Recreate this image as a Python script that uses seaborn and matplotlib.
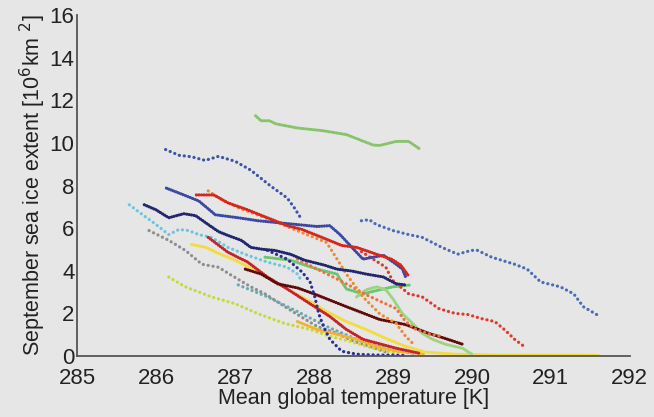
import matplotlib
matplotlib.use("Agg")
import seaborn as sns
import matplotlib.pyplot as plt

# September sea ice extent vs mean global temperature, one track per model run

# top light green
x_green_top = [287.26, 287.33, 287.44, 287.51, 287.79, 288.12, 288.41, 288.75, 288.83, 289.04, 289.20, 289.33]
y_green_top = [11.27, 11.04, 11.04, 10.90, 10.70, 10.57, 10.39, 9.90, 9.88, 10.07, 10.07, 9.74]

# upper blue
x_blue_up = [286.12, 286.29, 286.45, 286.62, 286.79, 287.00, 287.20, 287.45, 287.66, 287.75, 287.83]
y_blue_up = [9.69, 9.42, 9.35, 9.18, 9.37, 9.14, 8.72, 7.98, 7.42, 6.96, 6.49]

# right blue
x_blue_right = [288.60, 288.70, 288.79, 289.00, 289.20, 289.37, 289.62, 289.82, 289.99, 290.07, 290.25,
                290.54, 290.70, 290.87, 291.12, 291.29, 291.41, 291.58]
y_blue_right = [6.35, 6.40, 6.17, 5.89, 5.70, 5.57, 5.10, 4.78, 4.96, 4.96, 4.64,
                4.31, 4.08, 3.48, 3.25, 2.92, 2.32, 1.95]

# navy
x_navy = [285.85, 286.00, 286.16, 286.35, 286.50, 286.66, 286.79, 286.91, 287.08, 287.20, 287.35, 287.50,
          287.70, 287.88, 288.13, 288.29, 288.48, 288.66, 288.88, 289.04, 289.16]
y_navy = [7.10, 6.86, 6.49, 6.68, 6.59, 6.17, 5.84, 5.66, 5.43, 5.10, 5.01, 4.96,
          4.78, 4.50, 4.27, 4.08, 3.99, 3.85, 3.71, 3.39, 3.34]

# medium blue
x_blue_mid = [286.13, 286.35, 286.54, 286.75, 287.04, 287.29, 287.54, 287.79, 288.04, 288.20, 288.33,
              288.48, 288.62, 288.88, 289.04, 289.12, 289.16]
y_blue_mid = [7.88, 7.56, 7.28, 6.63, 6.49, 6.35, 6.26, 6.17, 6.08, 6.12, 5.70,
              5.10, 4.55, 4.73, 4.31, 4.08, 3.71]

# red
x_red = [286.51, 286.73, 286.91, 287.16, 287.41, 287.66, 287.85, 288.10, 288.35, 288.54, 288.79, 288.98, 289.10, 289.19]
y_red = [7.56, 7.56, 7.19, 6.86, 6.49, 6.12, 5.94, 5.57, 5.19, 5.10, 4.78, 4.55, 4.27, 3.80]

# orange
x_orange = [286.66, 286.85, 287.04, 287.30, 287.54, 287.91, 288.16, 288.41, 288.62, 288.83, 289.04, 289.16, 289.25]
y_orange = [7.75, 7.30, 6.96, 6.60, 6.26, 5.70, 5.33, 3.85, 2.78, 1.99, 1.53, 0.93, 0.60]

# red dotted, right
x_red_dot = [288.60, 288.91, 288.99, 289.20, 289.37, 289.58, 289.79, 289.95, 290.12, 290.29, 290.41, 290.54, 290.66]
y_red_dot = [4.90, 4.17, 3.57, 2.92, 2.78, 2.23, 2.00, 1.95, 1.76, 1.62, 1.25, 0.79, 0.46]

# maroon
x_maroon = [287.13, 287.33, 287.54, 287.79, 288.00, 288.41, 288.83, 289.16, 289.45, 289.66, 289.88]
y_maroon = [4.08, 3.85, 3.39, 3.20, 2.92, 2.32, 1.72, 1.48, 1.07, 0.83, 0.56]

# crimson, lower
x_crimson = [286.66, 286.91, 287.16, 287.41, 287.66, 287.91, 288.20, 288.41, 288.62, 289.04, 289.33]
y_crimson = [5.57, 4.87, 4.41, 3.71, 3.15, 2.55, 1.86, 1.25, 0.79, 0.37, 0.14]

# green, middle
x_green_mid = [287.38, 287.70, 288.04, 288.29, 288.41, 288.62, 288.83, 289.00, 289.23]
y_green_mid = [4.64, 4.50, 4.08, 3.85, 3.15, 2.92, 3.11, 3.25, 3.34]

# light green loop
x_green_loop = [288.54, 288.66, 288.79, 288.91, 289.00, 289.12, 289.25, 289.37, 289.50, 289.66, 289.88, 290.00]
y_green_loop = [2.78, 3.11, 3.25, 3.11, 2.69, 1.99, 1.53, 1.07, 0.79, 0.56, 0.37, 0.09]

# yellow, runs out flat along zero
x_yellow = [286.45, 286.63, 286.79, 287.00, 287.20, 287.41, 287.66, 287.91, 288.16, 288.41, 288.66,
            288.91, 289.16, 289.41, 289.79, 290.29, 290.91, 291.54, 291.62]
y_yellow = [5.24, 5.10, 4.82, 4.50, 4.13, 3.71, 3.15, 2.64, 2.09, 1.62, 1.25,
            0.83, 0.46, 0.19, 0.09, 0.05, 0.05, 0.04, 0.02]

# cyan
x_cyan = [285.66, 285.83, 286.00, 286.16, 286.29, 286.41, 286.54, 286.70, 286.91, 287.16, 287.41, 287.66, 287.79, 287.85]
y_cyan = [7.10, 6.63, 6.17, 5.70, 5.94, 5.89, 5.70, 5.57, 5.10, 4.73, 4.41, 4.17, 3.85, 3.48]

# gray
x_gray = [285.91, 286.16, 286.37, 286.58, 286.79, 286.95, 287.20, 287.38, 287.63, 287.83, 288.04,
          288.29, 288.50, 288.75, 288.95]
y_gray = [5.89, 5.43, 4.96, 4.31, 4.17, 3.80, 3.25, 2.92, 2.32, 1.86, 1.39,
          1.07, 0.70, 0.40, 0.14]

# yellow-green
x_lime = [286.16, 286.37, 286.70, 287.00, 287.29, 287.63, 287.95, 288.20, 288.45, 288.75, 289.04]
y_lime = [3.71, 3.25, 2.78, 2.46, 1.99, 1.53, 1.25, 0.93, 0.70, 0.37, 0.14]

# teal
x_teal = [287.04, 287.41, 287.79, 288.16, 288.54, 288.91, 289.29]
y_teal = [3.34, 2.78, 2.09, 1.39, 0.79, 0.37, 0.09]

# navy dots, steep drop
x_navy_dot = [287.41, 287.66, 287.85, 287.95, 288.01, 288.06, 288.12, 288.20, 288.35, 288.54, 288.79, 289.04, 289.16]
y_navy_dot = [4.96, 4.55, 3.94, 3.48, 2.78, 1.99, 1.39, 0.79, 0.23, 0.09, 0.05, 0.05, 0.03]

# orange-yellow
x_amber = [287.79, 288.04, 288.29, 288.54, 288.79, 289.04, 289.41]
y_amber = [1.62, 1.25, 1.02, 0.79, 0.46, 0.23, 0.09]

# orange-red dots
x_coral = [287.79, 288.04, 288.29, 288.48, 288.66, 288.85, 289.04, 289.16, 289.29, 289.48, 289.60]
y_coral = [4.55, 4.08, 3.62, 3.25, 2.88, 2.55, 2.23, 1.62, 1.25, 1.02, 0.93]

# dash patterns: tiny dash + round cap = a dot
dense = (0, (0.05, 0.75))
sparse = (0, (0.05, 1.5))

series = [
    (x_gray, y_gray, "#8e8e8e", sparse),
    (x_lime, y_lime, "#c6da3a", sparse),
    (x_teal, y_teal, "#6aa8b4", sparse),
    (x_cyan, y_cyan, "#6cc6e0", sparse),
    (x_amber, y_amber, "#f0b432", dense),
    (x_yellow, y_yellow, "#f2dc3e", dense),
    (x_green_mid, y_green_mid, "#6ec470", dense),
    (x_green_loop, y_green_loop, "#9ad680", dense),
    (x_crimson, y_crimson, "#c4242a", dense),
    (x_maroon, y_maroon, "#5e0c0c", dense),
    (x_coral, y_coral, "#f07040", sparse),
    (x_red_dot, y_red_dot, "#e03a2c", sparse),
    (x_navy_dot, y_navy_dot, "#2a2f92", sparse),
    (x_orange, y_orange, "#ea8a38", sparse),
    (x_navy, y_navy, "#23276e", dense),
    (x_blue_mid, y_blue_mid, "#3c4aa2", dense),
    (x_red, y_red, "#d6261e", dense),
    (x_blue_up, y_blue_up, "#3d55a8", sparse),
    (x_blue_right, y_blue_right, "#4a6db6", sparse),
    (x_green_top, y_green_top, "#88c46c", dense),
]

sns.set_style("white")
plt.rcParams["font.family"] = ["Liberation Sans", "DejaVu Sans"]
bg = "#e6e6e6"

fig = plt.figure(figsize=(6.54, 4.17), dpi=100, facecolor=bg)
ax = fig.add_axes([0.118, 0.146, 0.845, 0.818])
ax.set_facecolor(bg)

for xs, ys, col, ls in series:
    sns.lineplot(x=xs, y=ys, ax=ax, sort=False, estimator=None, color=col,
                 linewidth=2.3, linestyle=ls, dash_capstyle="round")

ax.set_xlim(285, 292)
ax.set_ylim(0, 16)
ax.set_xticks(range(285, 293))
ax.set_yticks(range(0, 17, 2))
for s in ["top", "right"]:
    ax.spines[s].set_visible(False)
for s in ["left", "bottom"]:
    ax.spines[s].set_color("#555555")
    ax.spines[s].set_linewidth(1.3)
ax.tick_params(direction="in", length=4, width=1, color="#555555",
               labelsize=16, labelcolor="#222222")
ax.tick_params(axis="y", pad=2)
ax.tick_params(axis="x", pad=8.5)
ax.set_xlabel("Mean global temperature [K]", fontsize=15.5, color="#222222", labelpad=-1)
ax.set_ylabel("September sea ice extent [10$^6$km $^2$]", fontsize=15.5, color="#222222", labelpad=1)

plt.savefig("out.png", dpi=100, facecolor=bg)
